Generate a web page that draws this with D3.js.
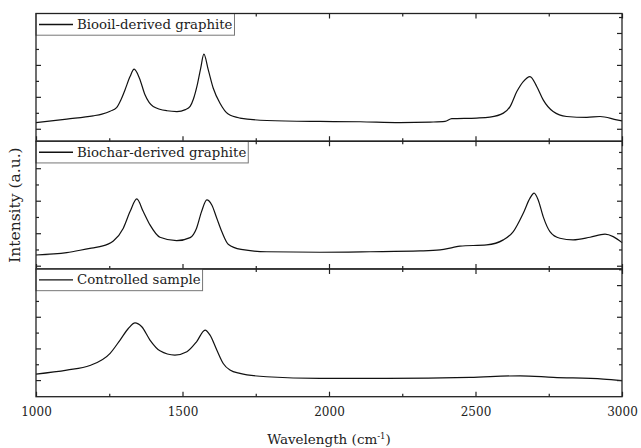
<!DOCTYPE html>
<html>
<head>
<meta charset="utf-8">
<script src="https://cdn.jsdelivr.net/npm/d3@7/dist/d3.min.js"></script>
<style>
  body { margin: 0; background: #fff; }
  svg text { font-family: "DejaVu Serif", "Liberation Serif", serif; fill: #222; }
  .frame { fill: none; stroke: #222; stroke-width: 1.3; }
  .spec { fill: none; stroke: #111; stroke-width: 1.2; stroke-linejoin: round; }
  .tk line { stroke: #222; stroke-width: 1.2; }
</style>
</head>
<body>
<div id="chart"></div>
<script>
// Raman spectra (x in cm-1, y arbitrary counts)
var biooilWn = [1000,1105,1195,1225,1253,1275,1290,1304,1321,1335,1353,1372,1400,1447,1481,1510,1526,1537,1550,1562,1573,1588,1605,1628,1656,1696,1788,1969,2106,2242,2345,2396,2419,2504,2549,2595,2618,2641,2663,2686,2709,2731,2765,2811,2880,2925,2982,3000];
var biooilI  = [139,161,181,192,210,232,282,345,427,473,417,313,240,213,208,220,240,285,372,479,567,469,354,260,192,167,152,146,144,139,142,146,163,167,173,198,239,333,396,427,365,281,208,177,171,177,156,150];

var biocharWn = [1000,1105,1184,1218,1264,1298,1321,1344,1366,1389,1423,1480,1526,1548,1565,1583,1600,1617,1634,1656,1700,1787,1969,2140,2311,2379,2424,2447,2538,2595,2629,2663,2686,2700,2714,2731,2754,2788,2833,2891,2942,2970,3000];
var biocharI  = [166,180,207,217,252,331,433,511,433,351,275,254,273,331,433,505,474,392,310,232,200,186,183,186,191,197,213,221,228,259,310,423,516,547,505,402,310,269,259,275,294,279,242];

var controlWn = [1000,1105,1184,1253,1287,1315,1338,1361,1389,1423,1474,1515,1548,1577,1594,1617,1639,1662,1696,1787,1969,2197,2481,2652,2766,2936,3000];
var controlI  = [138,163,192,269,353,426,462,437,353,285,258,279,342,416,384,290,205,163,142,121,111,111,117,127,117,106,96];

var seriesNames = ["Biooil-derived graphite", "Biochar-derived graphite", "Controlled sample"];
var yDomains = [[22, 822], [80, 866], [-5, 802]];
var xTicksMajor = [1000, 1500, 2000, 2500, 3000];
var xTicksMinor = [1250, 1750, 2250, 2750];
var yTicksMajor = [100, 300, 500, 700];
var yTicksMinor = [200, 400, 600, 800];

(function () {
  var W = 641, H = 448;
  var mLeft = 36, mRight = 622, mTop = 13.5, mBottom = 396.7;
  var ph = (mBottom - mTop) / 3;

  var svg = d3.select("#chart").append("svg").attr("width", W).attr("height", H);
  var x = d3.scaleLinear().domain([1000, 3000]).range([mLeft, mRight]);

  var spectra = [
    biooilWn.map(function(w, i){ return [w, biooilI[i]]; }),
    biocharWn.map(function(w, i){ return [w, biocharI[i]]; }),
    controlWn.map(function(w, i){ return [w, controlI[i]]; })
  ];

  function tickAxis(g, axis) {
    g.call(axis);
    g.attr("class", "tk");
    g.select(".domain").remove();
  }

  spectra.forEach(function(data, p){
    var y0 = mTop + p * ph, y1 = y0 + ph;
    var y = d3.scaleLinear().domain(yDomains[p]).range([y1, y0]);
    var g = svg.append("g");

    var line = d3.line()
      .x(function(d){ return x(d[0]); })
      .y(function(d){ return y(d[1]); })
      .curve(d3.curveMonotoneX);
    g.append("path").attr("class", "spec").attr("d", line(data));

    // inward ticks on all four sides
    g.append("g").attr("transform", "translate(0," + y1 + ")")
      .call(tickAxis, d3.axisBottom(x).tickValues(xTicksMajor).tickSize(-5).tickFormat(p == 2 ? d3.format("d") : "").tickPadding(11));
    g.append("g").attr("transform", "translate(0," + y1 + ")")
      .call(tickAxis, d3.axisBottom(x).tickValues(xTicksMinor).tickSize(-3).tickFormat(""));
    g.append("g").attr("transform", "translate(0," + y0 + ")")
      .call(tickAxis, d3.axisTop(x).tickValues(xTicksMajor).tickSize(-5).tickFormat(""));
    g.append("g").attr("transform", "translate(0," + y0 + ")")
      .call(tickAxis, d3.axisTop(x).tickValues(xTicksMinor).tickSize(-3).tickFormat(""));
    g.append("g").attr("transform", "translate(" + mLeft + ",0)")
      .call(tickAxis, d3.axisLeft(y).tickValues(yTicksMajor).tickSize(-5).tickFormat(""));
    g.append("g").attr("transform", "translate(" + mLeft + ",0)")
      .call(tickAxis, d3.axisLeft(y).tickValues(yTicksMinor).tickSize(-3).tickFormat(""));
    g.append("g").attr("transform", "translate(" + mRight + ",0)")
      .call(tickAxis, d3.axisRight(y).tickValues(yTicksMajor).tickSize(-5).tickFormat(""));
    g.append("g").attr("transform", "translate(" + mRight + ",0)")
      .call(tickAxis, d3.axisRight(y).tickValues(yTicksMinor).tickSize(-3).tickFormat(""));

    g.selectAll(".tk text").style("font-size", "12px").attr("font-family", null);

    // legend
    var lg = g.append("g");
    var box = lg.append("rect").attr("x", mLeft).attr("y", y0)
      .attr("height", 21.7).attr("fill", "#fff").attr("stroke", "#777").attr("stroke-width", 1);
    lg.append("line").attr("x1", 39).attr("x2", 73)
      .attr("y1", y0 + 11).attr("y2", y0 + 11).attr("stroke", "#111").attr("stroke-width", 1.3);
    var t = lg.append("text").attr("x", 77).attr("y", y0 + 15.5)
      .style("font-size", "13.3px").text(seriesNames[p]);
    var tw = t.node().getComputedTextLength();
    box.attr("width", 77 + tw + 2 - mLeft);

    g.append("rect").attr("class", "frame")
      .attr("x", mLeft).attr("y", y0).attr("width", mRight - mLeft).attr("height", ph);
  });

  svg.append("text")
    .attr("transform", "translate(15," + ((mTop + mBottom) / 2) + ") rotate(-90)")
    .attr("text-anchor", "middle").attr("dy", "0.35em")
    .style("font-size", "15.5px").text("Intensity (a.u.)");

  var xl = svg.append("text")
    .attr("x", (mLeft + mRight) / 2).attr("y", 444)
    .attr("text-anchor", "middle").style("font-size", "13.5px");
  xl.append("tspan").text("Wavelength (cm");
  xl.append("tspan").attr("dy", -5).style("font-size", "8.5px").text("-1");
  xl.append("tspan").attr("dy", 5).text(")");
})();
</script>
</body>
</html>
